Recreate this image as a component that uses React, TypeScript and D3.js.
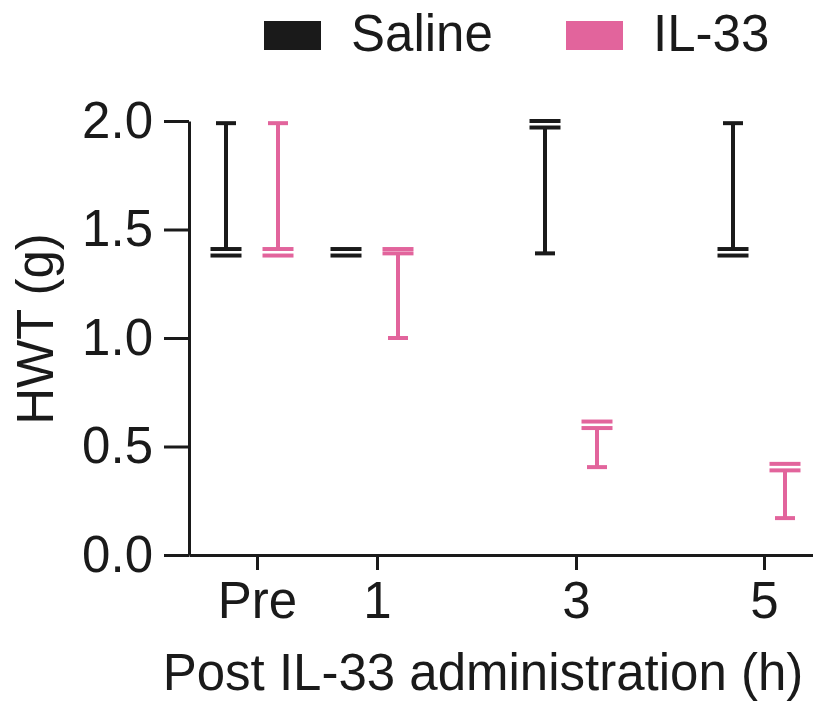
import { useEffect, useRef } from "react";
import * as d3 from "d3";

// time points and where they sit on the x axis (axis units)
const categories = ["Pre", "1", "3", "5"];
const catPos = [0, 1.2, 3.19, 5.07];
const yTicks = [0, 0.5, 1.0, 1.5, 2.0];

// Saline: whisker min, box low, box high, whisker max
const salineLow = [1.38, 1.38, 1.39, 1.38];
const salineQ1 = [1.38, 1.38, 1.97, 1.38];
const salineQ3 = [1.41, 1.41, 2.0, 1.41];
const salineHigh = [1.99, 1.41, 2.0, 1.99];

// IL-33
const il33Low = [1.38, 1.0, 0.405, 0.17];
const il33Q1 = [1.38, 1.39, 0.585, 0.39];
const il33Q3 = [1.41, 1.41, 0.615, 0.42];
const il33High = [1.99, 1.41, 0.615, 0.42];

const BLACK = "#1a1a1a";
const PINK = "#e2649c";
const FONT = "'Liberation Sans', Arial, sans-serif";

export default function App() {
  const ref = useRef<SVGSVGElement>(null);
  const W = 813, H = 702;

  useEffect(() => {
    const svg = d3.select(ref.current);
    svg.selectAll("*").remove();

    const y = d3.scaleLinear().domain([0, 2]).range([555, 121]);
    const x = d3.scaleLinear().domain([-0.68, 5.56]).range([189, 813]);

    // y axis
    const gy = svg.append("g")
      .attr("transform", "translate(189,0)")
      .call(d3.axisLeft(y).tickValues(yTicks).tickFormat(d3.format(".1f")).tickSize(25).tickSizeOuter(0).tickPadding(11));
    gy.select(".domain").attr("stroke", BLACK).attr("stroke-width", 3);
    gy.selectAll(".tick line").attr("stroke", BLACK).attr("stroke-width", 3);
    gy.selectAll(".tick text")
      .attr("fill", BLACK)
      .style("font-family", FONT)
      .style("font-size", "51px");

    // x axis
    const gx = svg.append("g")
      .attr("transform", "translate(0,555)")
      .call(d3.axisBottom(x).tickValues(catPos).tickFormat((d, i) => categories[i]).tickSize(15).tickSizeOuter(0).tickPadding(12));
    gx.select(".domain").attr("stroke", BLACK).attr("stroke-width", 3);
    gx.selectAll(".tick line").attr("stroke", BLACK).attr("stroke-width", 3);
    gx.selectAll(".tick text")
      .attr("fill", BLACK)
      .style("font-family", FONT)
      .style("font-size", "51px");

    // axis titles
    svg.append("text")
      .attr("transform", "translate(53,329) rotate(-90)")
      .attr("text-anchor", "middle")
      .style("font-family", FONT)
      .style("font-size", "51px")
      .attr("fill", BLACK)
      .text("HWT (g)");

    svg.append("text")
      .attr("x", 483)
      .attr("y", 690)
      .attr("text-anchor", "middle")
      .style("font-family", FONT)
      .style("font-size", "51px")
      .attr("fill", BLACK)
      .text("Post IL-33 administration (h)");

    const series = [
      { color: BLACK, offset: -31, low: salineLow, q1: salineQ1, q3: salineQ3, high: salineHigh },
      { color: PINK, offset: 21, low: il33Low, q1: il33Q1, q3: il33Q3, high: il33High },
    ];

    const capW = 20, boxW = 31, sw = 4;
    series.forEach((s) => {
      const g = svg.append("g").attr("stroke", s.color).attr("stroke-width", sw);
      categories.forEach((c, i) => {
        const cx = x(catPos[i]) + s.offset;
        if (s.low[i] < s.q1[i]) {
          g.append("line").attr("x1", cx).attr("x2", cx).attr("y1", y(s.low[i])).attr("y2", y(s.q1[i]));
          g.append("line").attr("x1", cx - capW / 2).attr("x2", cx + capW / 2).attr("y1", y(s.low[i])).attr("y2", y(s.low[i]));
        }
        if (s.high[i] > s.q3[i]) {
          g.append("line").attr("x1", cx).attr("x2", cx).attr("y1", y(s.high[i])).attr("y2", y(s.q3[i]));
          g.append("line").attr("x1", cx - capW / 2).attr("x2", cx + capW / 2).attr("y1", y(s.high[i])).attr("y2", y(s.high[i]));
        }
        [s.q1[i], s.q3[i]].forEach((v) => {
          g.append("line").attr("x1", cx - boxW / 2).attr("x2", cx + boxW / 2).attr("y1", y(v)).attr("y2", y(v));
        });
      });
    });

    // legend
    const legend = [
      { label: "Saline", color: BLACK, x: 264 },
      { label: "IL-33", color: PINK, x: 566 },
    ];
    legend.forEach((l) => {
      svg.append("rect").attr("x", l.x).attr("y", 21).attr("width", 57).attr("height", 29).attr("fill", l.color);
      svg.append("text")
        .attr("x", l.x + 87)
        .attr("y", 51)
        .style("font-family", FONT)
        .style("font-size", "51px")
        .attr("fill", BLACK)
        .text(l.label);
    });
  }, []);

  return (
    <svg ref={ref} width={W} height={H} style={{ position: "absolute", left: 0, top: 0, background: "#fff" }} />
  );
}
